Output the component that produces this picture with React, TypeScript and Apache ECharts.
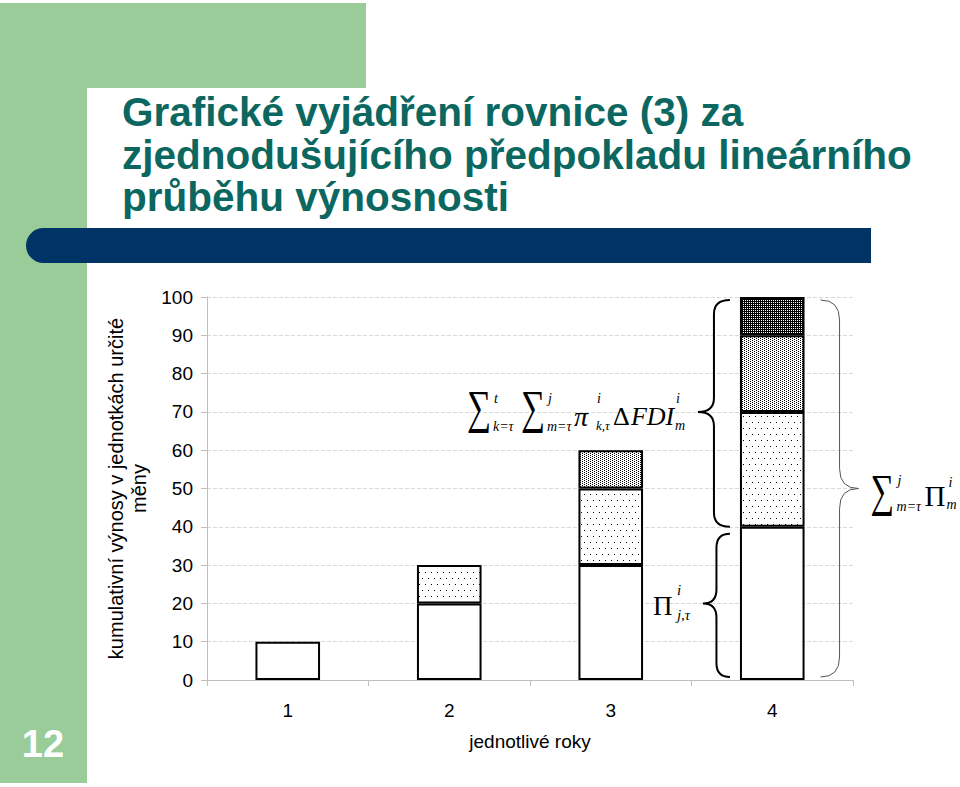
import { useEffect, useRef } from 'react';
import * as echarts from 'echarts';

// ── Data ──
const YEARS = ['1', '2', '3', '4'];
const BASE = [10, 20, 30, 40];
const LAYER_1: (number | null)[] = [null, 10, 20, 30];
const LAYER_2: (number | null)[] = [null, null, 10, 20];
const LAYER_3: (number | null)[] = [null, null, null, 10];
const Y_MIN = 0;
const Y_MAX = 100;
const Y_STEP = 10;

const TITLE_LINES = [
  'Grafické vyjádření rovnice (3) za',
  'zjednodušujícího předpokladu lineárního',
  'průběhu výnosnosti',
];
const Y_NAME = 'kumulativní výnosy v jednotkách určité\nměny';
const X_NAME = 'jednotlivé roky';
const SLIDE_NO = '12';

const GREEN = '#99cc99';
const NAVY = '#003366';
const TEAL = '#0b6760';
const AXIS_GRAY = '#bfbfbf';
const SANS = '"Liberation Sans", Arial, sans-serif';
const SERIF = '"Liberation Serif", "Times New Roman", "DejaVu Serif", serif';

function dotPattern(w: number, h: number, bg: string, pts: number[][]) {
  const c = document.createElement('canvas');
  c.width = w;
  c.height = h;
  const ctx = c.getContext('2d')!;
  ctx.fillStyle = bg;
  ctx.fillRect(0, 0, w, h);
  ctx.fillStyle = '#000';
  for (const [x, y] of pts) ctx.fillRect(x, y, 1, 1);
  return { image: c, repeat: 'repeat', imageWidth: w, imageHeight: h };
}

function bracePath(xe: number, xc: number, y0: number, y1: number, ym: number, r: number) {
  const xv = (xe + xc) / 2;
  return `M${xe} ${y0} Q${xv} ${y0} ${xv} ${y0 + r} L${xv} ${ym - r} Q${xv} ${ym} ${xc} ${ym} `
    + `Q${xv} ${ym} ${xv} ${ym + r} L${xv} ${y1 - r} Q${xv} ${y1} ${xe} ${y1}`;
}

function txt(text: string, x: number, y: number, size: number, italic = true, scaleX = 1) {
  return {
    type: 'text', x, y, z: 10, silent: true, scaleX,
    style: {
      text, fontSize: size, fontFamily: SERIF, fontStyle: italic ? 'italic' : 'normal',
      fill: '#000', align: 'left', verticalAlign: 'middle',
    },
  };
}

// big summation sign, narrowed to the reference's proportions
const sigma = (x: number, y: number, size: number) => txt('∑', x, y, size, false, 0.72);

export default function App() {
  const ref = useRef<HTMLDivElement>(null);

  useEffect(() => {
    if (!ref.current) return;
    const chart = echarts.init(ref.current, undefined, { renderer: 'svg' });

    const sparse = dotPattern(6, 12, '#fff', [[2, 2], [5, 8]]);
    const medium = dotPattern(4, 2, '#fff', [[0, 0], [2, 1]]);
    const dark = dotPattern(2, 2, '#fff', [[0, 0], [1, 1], [0, 1]]);

    const bar = (name: string, data: (number | null)[], color: any) => ({
      name, type: 'bar', stack: 'total', data, barWidth: '40%', silent: true,
      itemStyle: { color, borderColor: '#000', borderWidth: 2 },
    });

    chart.setOption({
      animation: false,
      grid: { left: 207, right: 107, top: 297, bottom: 107 },
      xAxis: {
        type: 'category',
        data: YEARS,
        name: X_NAME,
        nameLocation: 'middle',
        nameGap: 52,
        nameTextStyle: { color: '#000', fontSize: 19, fontFamily: SANS },
        axisLine: { lineStyle: { color: AXIS_GRAY, width: 1 } },
        axisTick: { show: true, length: 6, lineStyle: { color: AXIS_GRAY } },
        axisLabel: { color: '#000', fontSize: 19, fontFamily: SANS, margin: 21 },
        splitLine: { show: false },
      },
      yAxis: {
        type: 'value',
        min: Y_MIN,
        max: Y_MAX,
        interval: Y_STEP,
        name: Y_NAME,
        nameLocation: 'middle',
        nameRotate: 90,
        nameGap: 50,
        nameTextStyle: { color: '#000', fontSize: 20, fontFamily: SANS, lineHeight: 23, align: 'center' },
        axisLine: { show: true, lineStyle: { color: AXIS_GRAY, width: 1 } },
        axisTick: { show: true, length: 6, lineStyle: { color: AXIS_GRAY } },
        axisLabel: { color: '#000', fontSize: 19, fontFamily: SANS, margin: 14 },
        splitLine: { show: true, lineStyle: { color: '#d9d9d9', type: 'dashed' } },
      },
      series: [
        bar('base', BASE, '#fff'),
        bar('layer1', LAYER_1, sparse),
        bar('layer2', LAYER_2, medium),
        bar('layer3', LAYER_3, dark),
      ],
    });

    // ── Annotations positioned from the axes ──
    const px = (i: number, v: number) => chart.convertToPixel({ gridIndex: 0 }, [i, v]) as number[];
    const band = px(1, 0)[0] - px(0, 0)[0];
    const half = band * 0.2;
    const cx4 = px(3, 0)[0];
    const yAt = (v: number) => px(3, v)[1];
    const left4 = cx4 - half;
    const right4 = cx4 + half;

    const topCusp = [left4 - 42, yAt(70)];
    const botCusp = [left4 - 37, yAt(20)];
    const rightCusp = [right4 + 54, yAt(50)];

    echarts.graphic.registerShape('braceTop', echarts.graphic.extendPath(
      bracePath(left4 - 10, topCusp[0], yAt(100) + 3, yAt(40), topCusp[1], 14), {}) as any);
    echarts.graphic.registerShape('braceBottom', echarts.graphic.extendPath(
      bracePath(left4 - 10, botCusp[0], yAt(40) + 7, yAt(0) - 3, botCusp[1], 14), {}) as any);
    echarts.graphic.registerShape('braceRight', echarts.graphic.extendPath(
      bracePath(right4 + 16, rightCusp[0], yAt(100) + 3, yAt(0) - 3, rightCusp[1], 20), {}) as any);

    const [ax, ay] = topCusp;
    const [bx, by] = botCusp;
    const [cx, cy] = rightCusp;

    chart.setOption({
      graphic: [
        { type: 'rect', z: -10, silent: true, shape: { x: 0, y: 3, width: 366, height: 85 }, style: { fill: GREEN } },
        { type: 'rect', z: -10, silent: true, shape: { x: 0, y: 3, width: 87, height: 780 }, style: { fill: GREEN } },
        { type: 'rect', z: -9, silent: true, shape: { x: 87, y: 88, width: 873, height: 699, r: [30, 0, 0, 0] }, style: { fill: '#fff' } },
        { type: 'rect', z: -8, silent: true, shape: { x: 26, y: 228, width: 845, height: 35, r: [17.5, 0, 0, 17.5] }, style: { fill: NAVY } },
        ...TITLE_LINES.map((line, i) => ({
          type: 'text', z: -7, silent: true, x: 122, y: 112 + i * 42.5,
          style: { text: line, fontSize: 40.5, fontWeight: 'bold', fontFamily: SANS, fill: TEAL, align: 'left', verticalAlign: 'middle' },
        })),
        {
          type: 'text', z: -7, silent: true, x: 43, y: 744,
          style: { text: SLIDE_NO, fontSize: 38, fontWeight: 'bold', fontFamily: SANS, fill: '#fff', align: 'center', verticalAlign: 'middle' },
        },
        { type: 'braceTop', z: 10, silent: true, style: { fill: 'none', stroke: '#000', lineWidth: 2 } },
        { type: 'braceBottom', z: 10, silent: true, style: { fill: 'none', stroke: '#000', lineWidth: 2 } },
        { type: 'braceRight', z: 10, silent: true, style: { fill: 'none', stroke: '#555', lineWidth: 1 } },
        // Σ_{k=τ}^{t} Σ_{m=τ}^{j} π^i_{k,τ} ΔFDI^i_m
        sigma(ax - 231, ay - 4, 47),
        txt('t', ax - 204, ay - 13, 14),
        txt('k=τ', ax - 205, ay + 15, 14),
        sigma(ax - 177, ay - 4, 47),
        txt('j', ax - 150, ay - 13, 14),
        txt('m=τ', ax - 151, ay + 15, 14),
        txt('π', ax - 124, ay + 5, 28),
        txt('i', ax - 101, ay - 13, 14),
        txt('k,τ', ax - 102, ay + 14, 13),
        txt('Δ', ax - 85, ay + 5, 26, false),
        txt('FDI', ax - 67, ay + 5, 26),
        txt('i', ax - 22, ay - 13, 14),
        txt('m', ax - 23, ay + 14, 14),
        // Π^i_{j,τ}
        txt('Π', bx - 50, by + 3, 27, false),
        txt('i', bx - 26, by - 13, 15),
        txt('j,τ', bx - 26, by + 12, 15),
        // Σ_{m=τ}^{j} Π^i_m
        sigma(cx + 12, cy + 2, 46),
        txt('j', cx + 39, cy - 8, 14),
        txt('m=τ', cx + 38, cy + 18, 14),
        txt('Π', cx + 66, cy + 7, 29, false),
        txt('i', cx + 90, cy - 6, 14),
        txt('m', cx + 88, cy + 16, 14),
      ],
    });

    return () => chart.dispose();
  }, []);

  return (
    <div
      ref={ref}
      style={{ position: 'fixed', left: 0, top: 0, width: 960, height: 787, background: '#fff' }}
    />
  );
}
